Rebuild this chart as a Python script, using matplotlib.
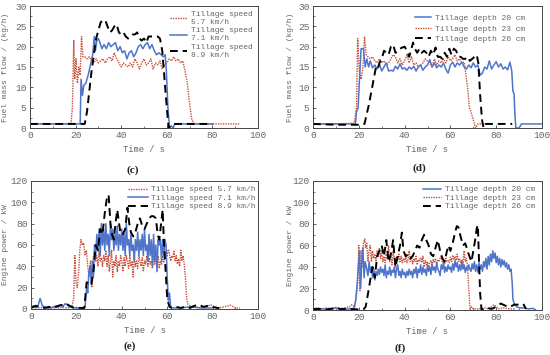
import numpy as np
import matplotlib
matplotlib.use("Agg")
import matplotlib.pyplot as plt
from matplotlib.ticker import MultipleLocator

# (time s, value) pairs
# (c) fuel mass flow, tillage speed
c_57 = [(0, 1), (5, 1), (10, 1), (15, 1), (18, 1.2), (18.6, 5), (19.2, 21.5), (19.6, 12), (20.2, 17), (20.8, 11),
        (21.4, 15), (22.0, 13), (22.6, 22.5), (23.2, 17.5), (24, 17.5), (25, 17), (26, 17.5), (27, 16.5), (28, 16),
        (29, 17), (30, 16), (31, 16.5), (32, 17), (33, 16), (34, 17), (35, 17.5), (36, 16.5), (37, 18.5), (38, 17),
        (39, 16), (40, 15), (41, 16), (42, 15.5), (43, 15), (44, 16), (45, 15), (46, 17), (47, 16), (48, 14.5),
        (49, 16), (50, 17), (51, 15.5), (52, 16), (53, 17), (54, 14.5), (55, 16), (56, 15.5), (57, 16.5), (58, 14.5),
        (59, 15.5), (60, 16), (61, 17), (62, 16.5), (63, 17.5), (64, 16.5), (65, 17), (66, 16), (67, 16.5), (68, 14),
        (69, 11), (70, 6), (71, 2), (72, 1), (80, 1), (92, 1)]
c_71 = [(0, 1), (10, 1), (20, 1), (22, 1), (22.4, 12), (23, 8), (23.6, 10.5), (24.5, 11), (25.5, 13), (26.5, 15.5),
        (27.5, 18), (28.2, 22.5), (28.7, 19), (29.3, 21.5), (30, 22), (30.7, 21), (31.5, 19.5), (32.5, 20.5),
        (33.5, 19.5), (34.5, 21), (35.5, 20), (36.5, 20.5), (37.5, 21), (38.5, 19), (39.5, 20), (40.5, 18.5),
        (41.5, 19), (42.5, 17), (43.5, 18.5), (44.5, 19), (45.5, 17.5), (46.5, 18.5), (47.5, 20), (48.5, 20.5),
        (49.5, 19.5), (50.5, 20.5), (51.5, 21), (52.5, 19.5), (53.5, 20.5), (54.5, 19), (55.5, 18), (56.5, 18.5),
        (57.5, 18), (58.5, 17.5), (59.3, 18), (59.8, 14), (60.5, 5), (61.2, 0), (62, 0.5), (62.8, 0), (63.5, 1),
        (70, 1), (80, 1)]
c_89 = [(0, 1), (10, 1), (20, 1), (24, 1), (25, 4), (26, 9), (27, 14), (28, 18), (29, 22), (30, 24), (31, 26),
        (32, 26.5), (33, 26.5), (34, 25), (35, 23.5), (36, 24), (37, 25), (38, 25.5), (39, 23.5), (40, 23),
        (41, 23.5), (42, 22.5), (43, 22), (44, 22.5), (45, 23), (46, 23), (47, 23.5), (48, 22), (49, 21.5), (50, 22),
        (51, 21), (52, 22.5), (53, 22.5), (54, 22.5), (55, 22.5), (56, 22.5), (57, 22), (58, 19), (59, 12), (60, 5),
        (60.8, 0), (61.5, 0.5), (62.5, 1), (70, 1), (80, 1)]

# (d) fuel mass flow, tillage depth
d_20 = [(0, 1), (10, 1), (18.5, 1), (19, 4), (19.7, 5), (20.3, 12), (21, 19.5), (22, 19.5), (22.8, 15), (23.5, 17),
        (24.3, 15), (25, 16.5), (26, 14.8), (27, 15.5), (28, 14.5), (29, 15.8), (30, 14), (31, 15), (32, 16), (33, 14),
        (34, 14.2), (35, 14), (36, 15.2), (37, 14.5), (38, 15.8), (39, 14.5), (40, 14.8), (41, 14.2), (42, 15),
        (43, 14.5), (44, 15.2), (45, 14), (46, 15), (47, 15.5), (48, 14.2), (49, 15), (50, 15.5), (51, 16.8), (52, 15),
        (53, 16), (54, 14.8), (55, 15.5), (56, 15), (57, 16), (58, 14.5), (59, 13.5), (60, 15.5), (61, 16.2), (62, 15),
        (63, 16), (64, 15.5), (65, 16.2), (66, 15), (67, 14.5), (68, 15.5), (69, 14.8), (70, 16), (71, 15), (72, 15.5),
        (73, 13), (74, 13.5), (75, 15), (76, 14.5), (77, 16.5), (78, 14.5), (79, 15.5), (80, 16.3), (81, 15),
        (82, 15.8), (83, 14.5), (84, 15), (85, 14.3), (86, 16.2), (86.8, 14), (87.3, 9), (87.8, 8.5), (88.2, 3),
        (88.6, 0), (90, 0), (91, 1), (100, 1)]
d_23 = [(0, 1), (10, 1), (18, 1.2), (19, 5), (19.5, 22), (20.2, 14), (21, 12), (21.8, 15), (22.5, 22.5), (23.2, 18),
        (24, 17.5), (25, 17), (26, 17.5), (27, 16.5), (28, 16), (29, 17), (30, 16), (31, 16.5), (32, 15.5), (33, 16),
        (34, 17), (35, 18), (36, 17.5), (37, 16), (38, 17), (39, 15.5), (40, 16.5), (41, 18), (42, 16), (43, 17.5),
        (44, 15.5), (45, 16), (46, 15), (47, 15.5), (48, 16), (49, 17), (50, 16.5), (51, 16), (52, 15), (53, 17),
        (54, 15.5), (55, 16.5), (56, 16), (57, 17), (58, 16), (59, 17.5), (60, 16.5), (61, 17), (62, 18), (63, 16.5),
        (64, 17), (65, 16), (66, 16.2), (66.8, 13), (67.5, 10), (68.3, 5), (69.2, 3.5), (70, 2), (71, 0), (72, 1),
        (76, 1)]
d_26 = [(0, 1), (10, 0.8), (20, 0.8), (22.5, 1), (23.5, 3.5), (24.5, 6), (25.5, 9), (26.5, 12), (27.5, 15),
        (28.3, 14.5), (29, 16), (30, 17), (31, 19), (32, 18.5), (33, 18), (34, 20), (35, 20.5), (36, 18.5),
        (37, 18.8), (38, 19.5), (39, 19.8), (40, 20), (41, 19), (42, 17.5), (43, 19.5), (43.7, 21), (44.5, 19.5),
        (45.5, 18.5), (46.5, 19.5), (47.5, 18.5), (48.5, 19), (49.5, 18.5), (50.5, 17.5), (51.5, 19), (52.5, 18),
        (53.5, 19.8), (54.5, 17.5), (55.5, 17.5), (56.5, 17), (57.5, 18.5), (58.5, 17.5), (59.5, 19.5), (60.5, 18),
        (61.5, 19.5), (62.5, 19), (63.5, 17.5), (64.5, 17.5), (65.5, 17), (66.5, 17), (67.5, 17.5), (68.5, 16.5),
        (69.5, 17), (70.5, 17.5), (71.5, 18), (72.2, 16), (73, 8), (73.8, 2), (74.5, 0), (75.5, 1), (87, 1)]

# (e) engine power, tillage speed
e_57 = [(0, 1), (2, 2), (4, 1), (6, 2), (8, 1), (10, 2), (12, 1), (14, 1.5), (16, 1), (18, 2), (18.8, 10),
        (19.3, 50), (19.8, 25), (20.4, 20), (21, 35), (21.5, 55), (22, 65), (22.6, 60), (23.2, 62), (23.8, 50),
        (24.4, 55), (25, 40), (25.6, 30), (26.2, 45), (26.8, 20), (27.5, 50), (28, 55), (28.5, 45), (29, 50),
        (29.5, 40), (30, 55), (30.5, 45), (31, 48), (31.5, 40), (32, 50), (32.5, 45), (33, 55), (33.5, 40), (34, 50),
        (34.5, 35), (35, 45), (35.5, 55), (36, 30), (36.5, 45), (37, 40), (37.5, 50), (38, 35), (38.5, 45), (39, 40),
        (39.5, 50), (40, 45), (40.5, 35), (41, 48), (41.5, 40), (42, 50), (42.5, 45), (43, 38), (43.5, 50), (44, 40),
        (44.5, 45), (45, 30), (45.5, 50), (46, 40), (46.5, 45), (47, 38), (47.5, 50), (48, 45), (48.5, 40), (49, 48),
        (49.5, 35), (50, 45), (50.5, 42), (51, 50), (51.5, 40), (52, 48), (52.5, 42), (53, 45), (53.5, 38), (54, 50),
        (54.5, 42), (55, 47), (55.5, 40), (56, 50), (56.5, 38), (57, 45), (57.5, 42), (58, 50), (58.5, 44), (59, 48),
        (59.5, 55), (60, 50), (60.5, 56), (61, 52), (61.5, 45), (62, 50), (62.5, 48), (63, 55), (63.5, 45), (64, 50),
        (64.5, 42), (65, 47), (65.5, 40), (66, 55), (66.5, 45), (67, 50), (67.5, 42), (68, 30), (68.5, 12), (69, 5),
        (70, 3), (72, 2), (75, 1), (77, 2), (79, 4), (81, 2), (83, 1), (85, 2), (88, 3.5), (90, 1), (92, 1)]
e_71 = [(0, 1), (1, 3), (2, 1), (3, 2), (4, 10), (5, 3), (6, 2), (7, 1), (9, 1), (11, 3), (12, 2), (13, 4), (14, 2),
        (15, 5), (16, 4), (17, 2), (19, 1), (21, 1), (23, 1), (23.8, 2), (24.5, 20), (25, 15), (25.5, 35), (26, 40),
        (26.5, 25), (27, 45), (27.5, 30), (28, 60), (28.5, 50), (29, 70), (29.5, 55), (30, 75), (30.5, 50), (31, 80),
        (31.5, 60), (32, 75), (32.5, 55), (33, 80), (33.5, 60), (34, 70), (34.5, 50), (35, 80), (35.5, 65), (36, 75),
        (36.5, 55), (37, 70), (37.5, 60), (38, 78), (38.5, 55), (39, 70), (39.5, 60), (40, 75), (40.5, 55), (41, 70),
        (41.5, 50), (42, 80), (42.5, 60), (43, 65), (43.5, 50), (44, 70), (44.5, 55), (45, 60), (45.5, 45), (46, 65),
        (46.5, 55), (47, 72), (47.5, 50), (48, 65), (48.5, 55), (49, 70), (49.5, 50), (50, 75), (50.5, 55), (51, 60),
        (51.5, 45), (52, 70), (52.5, 50), (53, 65), (53.5, 40), (54, 70), (54.5, 45), (55, 60), (55.5, 35), (56, 65),
        (56.5, 60), (57, 65), (57.5, 45), (58, 65), (58.5, 50), (59, 65), (59.5, 60), (60, 30), (60.5, 8), (61, 15),
        (61.5, 3), (62, 1), (65, 1), (70, 2), (75, 1), (80, 1)]
e_89 = [(0, 1), (2, 3), (4, 2), (6, 1), (8, 2), (10, 1), (12, 3), (14, 4), (15.5, 5), (17, 3), (19, 1), (21, 1),
        (23.5, 1), (24.5, 25), (25.5, 24), (26.5, 22), (27.5, 35), (28.5, 60), (29.5, 55), (30.5, 75), (31.5, 70),
        (32.5, 90), (33.5, 105), (34.2, 107), (35, 80), (35.7, 70), (36.5, 65), (37.2, 80), (38, 93), (38.8, 80),
        (39.5, 70), (40.5, 70), (41.5, 75), (42.5, 95), (43.3, 80), (44, 72), (45, 68), (46, 72), (47, 80), (48, 85),
        (49, 78), (50, 75), (51, 80), (52, 85), (53, 87), (54, 87), (55, 85), (55.8, 70), (56.5, 65), (57.3, 80),
        (58, 93), (58.5, 65), (59.2, 40), (60, 10), (61, 2), (62, 1), (64, 2), (66, 1), (68, 2), (70, 1), (72, 3),
        (74, 4), (76, 2), (78, 3), (80, 2), (82, 1), (83, 1)]

# (f) engine power, tillage depth
f_20 = [(0, 1), (2, 0.5), (4, 1), (8, 0.5), (10, 2), (12, 0.5), (16, 1), (18, 1.5), (18.7, 10), (19.3, 25),
        (19.8, 40), (20.3, 55), (20.8, 20), (21.3, 45), (21.8, 58), (22.3, 30), (22.8, 45), (23.3, 40), (24, 32),
        (24.5, 45), (25, 35), (25.5, 40), (26, 30), (26.5, 38), (27, 28), (27.5, 36), (28, 32), (28.5, 38), (29, 33),
        (29.5, 40), (30, 35), (30.5, 38), (31, 32), (31.5, 42), (32, 30), (32.5, 36), (33, 33), (33.5, 40), (34, 32),
        (34.5, 37), (35, 35), (35.5, 40), (36, 30), (36.5, 38), (37, 42), (37.5, 32), (38, 36), (38.5, 30), (39, 38),
        (39.5, 33), (40, 35), (40.5, 30), (41, 36), (41.5, 32), (42, 38), (42.5, 33), (43, 36), (43.5, 30), (44, 38),
        (44.5, 34), (45, 40), (45.5, 30), (46, 38), (46.5, 35), (47, 42), (47.5, 33), (48, 40), (48.5, 35), (49, 38),
        (49.5, 32), (50, 42), (50.5, 36), (51, 40), (51.5, 33), (52, 43), (52.5, 37), (53, 40), (53.5, 35), (54, 44),
        (54.5, 38), (55, 36), (55.5, 32), (56, 42), (56.5, 38), (57, 45), (57.5, 35), (58, 40), (58.5, 36), (59, 42),
        (59.5, 38), (60, 40), (60.5, 35), (61, 43), (61.5, 37), (62, 46), (62.5, 40), (63, 44), (63.5, 36), (64, 42),
        (64.5, 37), (65, 45), (65.5, 38), (66, 42), (66.5, 35), (67, 40), (67.5, 37), (68, 42), (68.5, 38), (69, 36),
        (69.5, 43), (70, 38), (70.5, 45), (71, 36), (71.5, 42), (72, 35), (72.5, 44), (73, 38), (73.5, 42), (74, 36),
        (74.5, 45), (75, 40), (75.5, 48), (76, 38), (76.5, 50), (77, 42), (77.5, 52), (78, 45), (78.5, 55), (79, 48),
        (79.5, 53), (80, 44), (80.5, 50), (81, 42), (81.5, 48), (82, 40), (82.5, 47), (83, 42), (83.5, 46), (84, 40),
        (84.5, 44), (85, 38), (85.5, 42), (86, 36), (86.5, 38), (87, 25), (87.3, 10), (88, 5), (89, 3), (90, 2),
        (92, 2), (94, 1), (96, 1.5), (97, 0.5)]
f_23 = [(0, 1), (2, 2), (4, 1), (6, 2), (8, 1), (10, 2.5), (12, 1), (14, 2), (16, 3), (17, 5), (18, 3), (18.8, 10),
        (19.5, 25), (20, 60), (20.5, 18), (21, 55), (21.5, 40), (22, 62), (22.6, 66), (23, 58), (23.5, 62), (24, 45),
        (24.5, 55), (25, 60), (25.5, 45), (26, 55), (26.5, 48), (27, 52), (27.5, 45), (28, 55), (28.5, 50), (29, 58),
        (29.5, 48), (30, 55), (30.5, 45), (31, 50), (31.5, 44), (32, 52), (32.5, 47), (33, 60), (33.5, 45), (34, 52),
        (34.5, 42), (35, 55), (35.5, 48), (36, 40), (36.5, 50), (37, 46), (37.5, 52), (38, 45), (38.5, 50), (39, 44),
        (39.5, 48), (40, 45), (40.5, 50), (41, 44), (41.5, 47), (42, 55), (42.5, 45), (43, 50), (43.5, 43), (44, 48),
        (44.5, 45), (45, 50), (45.5, 42), (46, 47), (46.5, 45), (47, 49), (47.5, 44), (48, 50), (48.5, 40), (49, 46),
        (49.5, 42), (50, 45), (50.5, 40), (51, 44), (51.5, 46), (52, 42), (52.5, 47), (53, 44), (53.5, 48), (54, 43),
        (54.5, 46), (55, 45), (55.5, 48), (56, 50), (56.5, 44), (57, 47), (57.5, 43), (58, 48), (58.5, 45), (59, 46),
        (59.5, 44), (60, 49), (60.5, 45), (61, 51), (61.5, 47), (62, 50), (62.5, 46), (63, 52), (63.5, 45), (64, 48),
        (64.5, 44), (65, 47), (65.5, 42), (66, 55), (66.5, 45), (67, 48), (67.5, 40), (68, 20), (68.6, 0), (69.2, 3),
        (70, 1), (72, 1), (75, 2), (77, 1), (79, 5), (81, 1), (83, 2), (86, 1), (88, 1)]
f_26 = [(0, 1), (3, 1), (6, 0.5), (10, 2), (12, 1), (16, 1), (20, 0.5), (22, 0.5), (23, 3), (24, 15), (25, 28),
        (26, 40), (27, 30), (28, 50), (29, 55), (30, 60), (31, 50), (32, 65), (33, 45), (34, 52), (35, 65), (36, 40),
        (37, 50), (38, 60), (38.8, 72), (39.5, 55), (40.5, 50), (41.5, 52), (42.5, 48), (43.5, 50), (44.5, 55),
        (45.5, 60), (46.5, 58), (47.5, 65), (48.5, 70), (49.5, 65), (50.5, 60), (51.5, 52), (52.5, 50), (53.5, 58),
        (54.5, 65), (55.5, 55), (56.5, 48), (57.5, 45), (58.5, 55), (59.2, 60), (60, 55), (61, 62), (62, 72),
        (62.8, 78), (63.5, 77), (64.5, 68), (65.5, 60), (66.5, 62), (67.5, 55), (68.3, 50), (69.2, 45), (70, 55),
        (70.8, 65), (71.5, 76), (72, 79), (72.5, 45), (73, 15), (73.6, 0), (74.5, 1), (76, 2), (78, 1), (80, 3),
        (82, 6), (84, 4), (86, 3), (88, 5), (90, 5), (91, 4), (92, 5), (93, 1)]

speed_labels = ["Tillage speed 5.7 km/h", "Tillage speed 7.1 km/h", "Tillage speed 8.9 km/h"]
depth_labels = ["Tillage depth 20 cm", "Tillage depth 23 cm", "Tillage depth 26 cm"]

RED = "#c9503c"
BLUE = "#4f74c9"
MONO = "Liberation Mono"
TXT = "#666666"

W, H = 550, 355
fig = plt.figure(figsize=(W / 100, H / 100), dpi=100)


def px_axes(left, top, right, bottom):
    return fig.add_axes([left / W, 1 - bottom / H, (right - left) / W, (bottom - top) / H])


## Draw one panel
def panel(ax, series, labels, ymax, ymajor, ylabel, label_x):
    styles = [dict(color=RED, ls=(0, (1, 0.8)), lw=1.0),
              dict(color=BLUE, ls="-", lw=1.1),
              dict(color="black", ls=(0, (4, 2.5)), lw=1.4)]
    for data, lab, st in zip(series, labels, styles):
        t, y = np.array(data).T
        ax.plot(t, y, label=lab, **st)
    ax.set_xlim(0, 100)
    ax.set_ylim(0, ymax)
    ax.xaxis.set_major_locator(MultipleLocator(20))
    ax.xaxis.set_minor_locator(MultipleLocator(10))
    ax.yaxis.set_major_locator(MultipleLocator(ymajor))
    ax.yaxis.set_minor_locator(MultipleLocator(ymajor / 2))
    ax.tick_params(which="both", direction="in", labelsize=6.8, colors="#444444",
                   labelcolor=TXT, pad=2.5)
    ax.tick_params(which="major", length=2.5, width=0.6)
    ax.tick_params(which="minor", length=1.5, width=0.5)
    for lab in ax.get_xticklabels() + ax.get_yticklabels():
        lab.set_fontfamily(MONO)
    for s in ax.spines.values():
        s.set_color("#444444")
        s.set_linewidth(0.7)
    ax.set_xlabel("Time / s", fontsize=6.3, family=MONO, color=TXT, labelpad=3)
    ax.set_ylabel(ylabel, fontsize=5.8, family=MONO, color=TXT)
    ax.yaxis.set_label_coords(label_x, 0.5)


ax_c = px_axes(30, 6, 258, 128)
panel(ax_c, [c_57, c_71, c_89], [s.replace("speed ", "speed\n") for s in speed_labels],
      30, 5, "Fuel mass flow / (kg/h)", -0.09)
ax_c.legend(loc="upper right", frameon=False, prop=dict(family=MONO, size=5.8),
            labelcolor=TXT, handlelength=2.2, handletextpad=0.5, labelspacing=0.2,
            borderpad=0.1, bbox_to_anchor=(1.0, 1.0))

ax_d = px_axes(313, 6, 542, 128)
panel(ax_d, [d_23, d_20, d_26], [depth_labels[1], depth_labels[0], depth_labels[2]],
      30, 5, "Fuel mass flow / (kg/h)", -0.083)
h, l = ax_d.get_legend_handles_labels()
ax_d.legend([h[1], h[0], h[2]], [l[1], l[0], l[2]], loc="upper right", frameon=False,
            prop=dict(family=MONO, size=5.8), labelcolor=TXT, handlelength=2.0,
            handletextpad=0.5, labelspacing=0.35, borderpad=0.1, bbox_to_anchor=(0.95, 0.97))

ax_e = px_axes(31, 181, 258, 309)
panel(ax_e, [e_57, e_71, e_89], speed_labels, 120, 20, "Engine power / kW", -0.095)
ax_e.legend(loc="upper right", frameon=False, prop=dict(family=MONO, size=5.8),
            labelcolor=TXT, handlelength=2.4, handletextpad=0.4, labelspacing=0.1,
            borderpad=0.1, bbox_to_anchor=(1.01, 1.0))

ax_f = px_axes(313, 181, 542, 310)
panel(ax_f, [f_23, f_20, f_26], [depth_labels[1], depth_labels[0], depth_labels[2]],
      120, 20, "Engine power / kW", -0.083)
h, l = ax_f.get_legend_handles_labels()
ax_f.legend([h[1], h[0], h[2]], [l[1], l[0], l[2]], loc="upper right", frameon=False,
            prop=dict(family=MONO, size=5.8), labelcolor=TXT, handlelength=2.2,
            handletextpad=0.5, labelspacing=0.1, borderpad=0.1, bbox_to_anchor=(0.99, 1.0))

for txt, x, y in [("(c)", 133, 170), ("(d)", 419, 168), ("(e)", 130, 346), ("(f)", 400, 348)]:
    fig.text(x / W, 1 - y / H, txt, ha="center", va="center", fontsize=8,
             family="Liberation Serif", weight="bold", color="#222222")

fig.savefig("out.png", dpi=100)
